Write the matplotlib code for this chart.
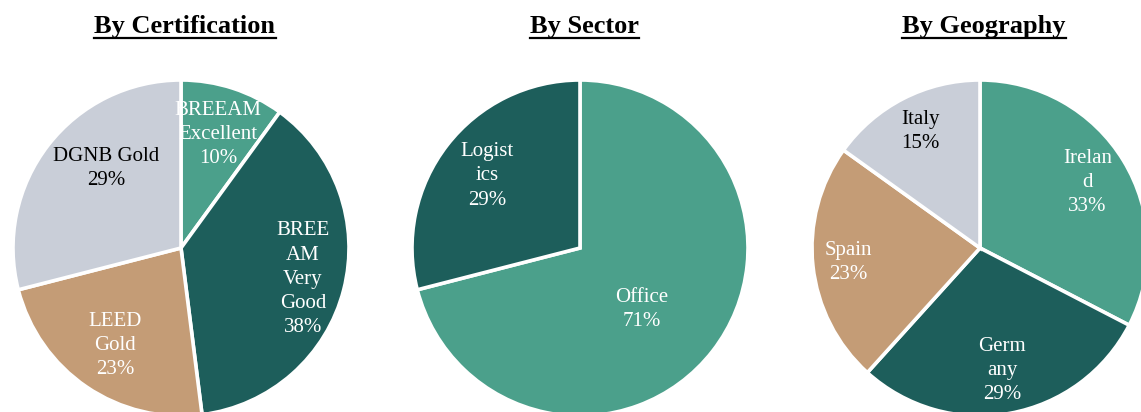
import matplotlib
matplotlib.use("Agg")
import numpy as np
import matplotlib.pyplot as plt
from matplotlib.lines import Line2D

plt.rcParams['font.family'] = ['Liberation Serif', 'DejaVu Serif']

# data
cert_labels = ["BREEAM\nExcellent\n10%", "BREE\nAM\nVery\nGood\n38%", "LEED\nGold\n23%", "DGNB Gold\n29%"]
cert_values = [10, 38, 23, 29]

sector_labels = ["Office\n71%", "Logist\nics\n29%"]
sector_values = [71, 29]

geo_labels = ["Irelan\nd\n33%", "Germ\nany\n29%", "Spain\n23%", "Italy\n15%"]
geo_values = [32.6, 29.1, 23.2, 15.1]

titles = ["By Certification", "By Sector", "By Geography"]

# colours
TEAL = "#4BA08B"
DARK = "#1D5E5B"
TAN = "#C49C76"
GREY = "#C9CED8"

W, H = 1141, 412
fig = plt.figure(figsize=(W / 100, H / 100), dpi=100)

# pie centres/radius in pixels
centres = [(181, 248), (580, 248), (980, 248)]
R = 168

# (values, labels, colours, text colours, label radius, label angle nudge in deg)
pies = [
    (cert_values, cert_labels, [TEAL, DARK, TAN, GREY], ["white", "white", "white", "black"],
     [0.71, 0.75, 0.70, 0.65], [0, 0, 0, -9]),
    (sector_values, sector_labels, [TEAL, DARK], ["white", "white"],
     [0.52, 0.70], [-7, 0]),
    (geo_values, geo_labels, [TEAL, DARK, TAN, GREY], ["white", "white", "white", "black"],
     [0.75, 0.74, 0.79, 0.78], [0, 0, 0, 0]),
]

title_texts = []
for (cx, cy), (vals, labs, cols, tcols, dists, nudges), title in zip(centres, pies, titles):
    ax = fig.add_axes([(cx - R) / W, (H - cy - R) / H, 2 * R / W, 2 * R / H])
    wedges, _ = ax.pie(vals, colors=cols, startangle=90, counterclock=False, radius=1,
                       wedgeprops=dict(edgecolor="white", linewidth=2.6))
    # labels sit at the middle angle of each wedge
    for w, lab, tc, d, n in zip(wedges, labs, tcols, dists, nudges):
        ang = np.deg2rad((w.theta1 + w.theta2) / 2 + n)
        ax.text(d * np.cos(ang), d * np.sin(ang), lab, ha="center", va="center",
                color=tc, fontsize=15, linespacing=1.37)
    ax.set_xlim(-1, 1)
    ax.set_ylim(-1, 1)
    ax.set_aspect("equal")
    ax.axis("off")
    t = fig.text((cx + 4) / W, 1 - 27 / H, title, ha="center", va="center",
                 fontsize=19, fontweight="bold")
    title_texts.append(t)

# underline the titles
fig.canvas.draw()
renderer = fig.canvas.get_renderer()
for t in title_texts:
    bb = t.get_window_extent(renderer)
    y = (H - 38) / H
    fig.add_artist(Line2D([bb.x0 / W, bb.x1 / W], [y, y], color="black", linewidth=1.6,
                          transform=fig.transFigure))

fig.savefig("out.png", dpi=100)
